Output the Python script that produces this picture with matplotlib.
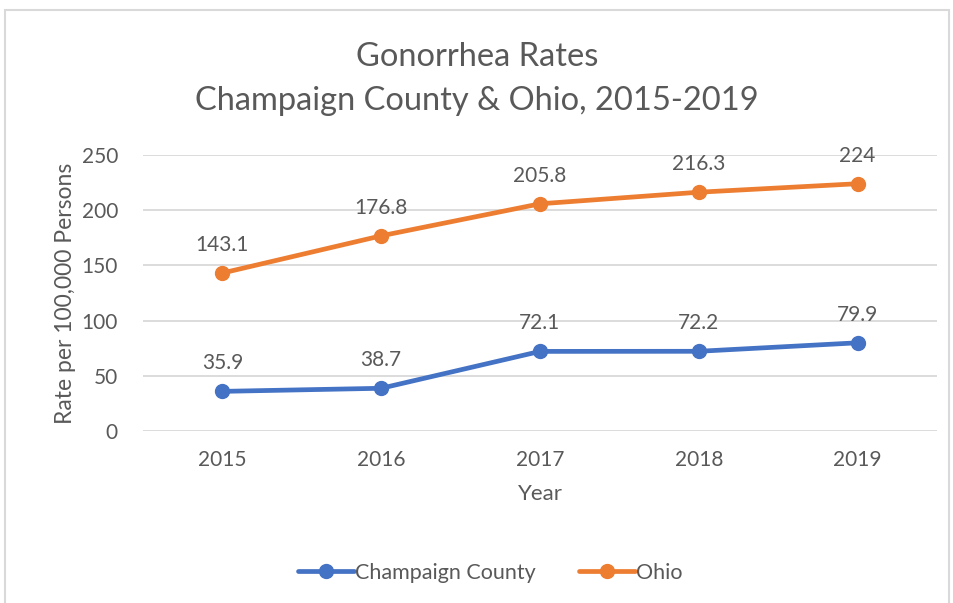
import matplotlib
matplotlib.use('Agg')
import matplotlib.pyplot as plt
from matplotlib.patches import Rectangle

years = ['2015', '2016', '2017', '2018', '2019']
champaign = [35.9, 38.7, 72.1, 72.2, 79.9]
ohio = [143.1, 176.8, 205.8, 216.3, 224]
champaign_labels = ['35.9', '38.7', '72.1', '72.2', '79.9']
ohio_labels = ['143.1', '176.8', '205.8', '216.3', '224']

blue = '#4472C4'
orange = '#ED7D31'
text_gray = '#595959'
grid_gray = '#D9D9D9'

plt.rcParams['font.family'] = ['Lato', 'DejaVu Sans']

fig = plt.figure(figsize=(9.54, 6.03), dpi=100)
fig.patches.append(Rectangle((5 / 954, -0.01), 944 / 954, 1 - 10 / 603 + 0.01,
                             transform=fig.transFigure, fill=False,
                             edgecolor='#D9D9D9', linewidth=1.5))

ax = fig.add_axes([143 / 954, 1 - 431 / 603, 794 / 954, 276 / 603])
x = list(range(len(years)))

ax.plot(x, champaign, color=blue, linewidth=3.4, marker='o', markersize=10,
        label='Champaign County', solid_capstyle='round')
ax.plot(x, ohio, color=orange, linewidth=3.4, marker='o', markersize=10,
        label='Ohio', solid_capstyle='round')

for xi, v, s in zip(x, champaign, champaign_labels):
    ax.annotate(s, (xi, v), xytext=(0, 13), textcoords='offset points',
                ha='center', va='bottom', fontsize=15, color=text_gray)
for xi, v, s in zip(x, ohio, ohio_labels):
    ax.annotate(s, (xi, v), xytext=(0, 13), textcoords='offset points',
                ha='center', va='bottom', fontsize=15, color=text_gray)

ax.set_xlim(-0.5, len(years) - 0.5)
ax.set_ylim(0, 250)
ax.set_yticks([0, 50, 100, 150, 200, 250])
ax.set_xticks(x)
ax.set_xticklabels(years)
ax.tick_params(length=0, labelsize=15, labelcolor=text_gray, pad=14)
ax.tick_params(axis='y', pad=18)
ax.grid(axis='y', color=grid_gray, linewidth=1.3)
ax.set_axisbelow(True)
for s in ax.spines.values():
    s.set_visible(False)

ax.set_xlabel('Year', fontsize=16, color=text_gray, labelpad=10)
ax.set_ylabel('Rate per 100,000 Persons', fontsize=16.5, color=text_gray, labelpad=4)

fig.text(0.5, 1 - 57 / 603, 'Gonorrhea Rates', ha='center', va='center',
         fontsize=23.5, color=text_gray)
fig.text(0.5, 1 - 101 / 603, 'Champaign County & Ohio, 2015-2019', ha='center',
         va='center', fontsize=23.5, color=text_gray)

fig.legend(loc='center', bbox_to_anchor=(490 / 954, 1 - 573 / 603), ncol=2,
           frameon=False, fontsize=15.5, labelcolor=text_gray, handlelength=2.6,
           handletextpad=0.05, columnspacing=2.0)

fig.savefig('out.png', dpi=100)
